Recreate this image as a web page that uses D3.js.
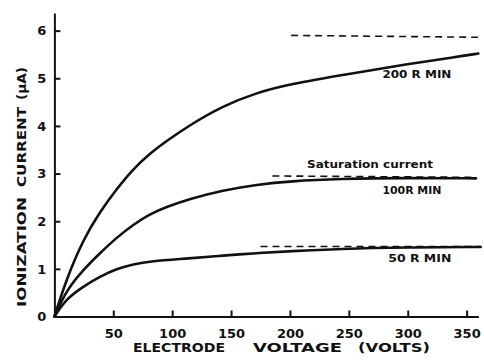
<!DOCTYPE html>
<html>
<head>
<meta charset="utf-8">
<script src="https://cdn.jsdelivr.net/npm/d3@7/dist/d3.min.js"></script>
<style>
  html, body { margin: 0; padding: 0; background: #fff; }
  svg { display: block; }
  text { font-family: "DejaVu Sans", sans-serif; font-weight: bold; fill: #111; }
</style>
</head>
<body>
<svg id="chart" width="484" height="361"></svg>
<script>
// ---- data ----
const xTicks = [50, 100, 150, 200, 250, 300, 350];
const yTicks = [0, 1, 2, 3, 4, 5, 6];

const v200 = [0, 10, 24.5, 38.7, 53, 67, 81, 95, 115, 143, 172, 200, 250, 300, 340, 360];
const i200 = [0, 0.77, 1.62, 2.2, 2.68, 3.1, 3.42, 3.68, 4.02, 4.42, 4.70, 4.88, 5.09, 5.30, 5.44, 5.52];

const v100 = [0, 10.4, 24.5, 38.7, 53, 67, 81, 95, 115, 143, 172, 200, 242, 300, 358];
const i100 = [0, 0.56, 0.98, 1.33, 1.66, 1.93, 2.15, 2.3, 2.47, 2.65, 2.77, 2.84, 2.89, 2.91, 2.9];

const v50 = [0, 10.4, 24.5, 38.7, 53, 67, 81, 115, 143, 172, 200, 242, 300, 362];
const i50 = [0, 0.38, 0.63, 0.84, 1.0, 1.1, 1.16, 1.22, 1.28, 1.33, 1.37, 1.42, 1.45, 1.46];

// saturation (dashed) lines: [startV, endV], [startI, endI]
const sat200V = [201, 364], sat200I = [5.9, 5.86];
const sat100V = [185, 358], sat100I = [2.95, 2.92];
const sat50V  = [175, 362], sat50I  = [1.47, 1.47];

const curveLabels = ["200 R MIN", "100R MIN", "50 R MIN"];
const satLabel = "Saturation current";
const xTitleWords = ["ELECTRODE", "VOLTAGE", "(VOLTS)"];
const yTitleWords = ["IONIZATION", "CURRENT", "(\u00b5A)"];

// ---- drawing ----
const svg = d3.select("#chart");
const x = d3.scaleLinear().domain([0, 360]).range([54.4, 478.4]);
const y = d3.scaleLinear().domain([0, 6.37]).range([316.5, 13]);

const xAxis = d3.axisBottom(x).tickValues(xTicks).tickSize(-6).tickSizeOuter(0).tickPadding(12)
  .tickFormat(d3.format("d"));
const gx = svg.append("g").attr("transform", `translate(0,${y(0)})`).call(xAxis);
const yAxis = d3.axisLeft(y).tickValues(yTicks).tickSize(-6).tickSizeOuter(0).tickPadding(8)
  .tickFormat(d3.format("d"));
const gy = svg.append("g").attr("transform", `translate(${x(0)},0)`).call(yAxis);

[gx, gy].forEach(g => {
  g.select(".domain").attr("stroke", "#111").attr("stroke-width", 2);
  g.selectAll(".tick line").attr("stroke", "#111").attr("stroke-width", 2);
  g.selectAll(".tick text").attr("font-size", 13).attr("font-family", "DejaVu Sans, sans-serif")
    .attr("font-weight", "bold").attr("fill", "#111");
});
gy.selectAll(".tick").filter(d => d === 0).select("line").remove();

const line = d3.line().x(d => x(d[0])).y(d => y(d[1])).curve(d3.curveBasis);
const series = [[v200, i200], [v100, i100], [v50, i50]];
series.forEach(([vs, is]) => {
  svg.append("path")
    .datum(vs.map((v, k) => [v, is[k]]))
    .attr("d", line)
    .attr("fill", "none")
    .attr("stroke", "#111")
    .attr("stroke-width", 2.6)
    .attr("stroke-linecap", "round");
});

const sats = [[sat200V, sat200I], [sat100V, sat100I], [sat50V, sat50I]];
sats.forEach(([vs, is]) => {
  svg.append("line")
    .attr("x1", x(vs[0])).attr("x2", x(vs[1]))
    .attr("y1", y(is[0])).attr("y2", y(is[1]))
    .attr("stroke", "#111").attr("stroke-width", 1.6)
    .attr("stroke-dasharray", "7,5");
});

// curve annotations (positioned in data units)
const labelPos = [[278.5, 5.0, 69], [278.5, 2.58, 59], [283.5, 1.15, 63]];
curveLabels.forEach((t, k) => {
  svg.append("text").attr("x", x(labelPos[k][0])).attr("y", y(labelPos[k][1]))
    .attr("font-size", 11).attr("textLength", labelPos[k][2]).attr("lengthAdjust", "spacingAndGlyphs")
    .text(t);
});
svg.append("text").attr("x", x(214.5)).attr("y", y(3.12))
  .attr("font-size", 11).attr("font-weight", "bold").attr("textLength", 126)
  .attr("lengthAdjust", "spacingAndGlyphs").text(satLabel);

// x title
const xWordPos = [[133, 92], [253, 89], [358, 72]];
xTitleWords.forEach((w, k) => {
  svg.append("text").attr("x", xWordPos[k][0]).attr("y", 352)
    .attr("font-size", 12.5).attr("textLength", xWordPos[k][1]).attr("lengthAdjust", "spacingAndGlyphs")
    .text(w);
});

// y title (rotated)
const yWordPos = [[307, 110], [187, 80], [100, 33]];
yTitleWords.forEach((w, k) => {
  svg.append("text").attr("transform", `translate(25.5,${yWordPos[k][0]}) rotate(-90)`)
    .attr("font-size", 12).attr("textLength", yWordPos[k][1]).attr("lengthAdjust", "spacingAndGlyphs")
    .text(w);
});
</script>
</body>
</html>
